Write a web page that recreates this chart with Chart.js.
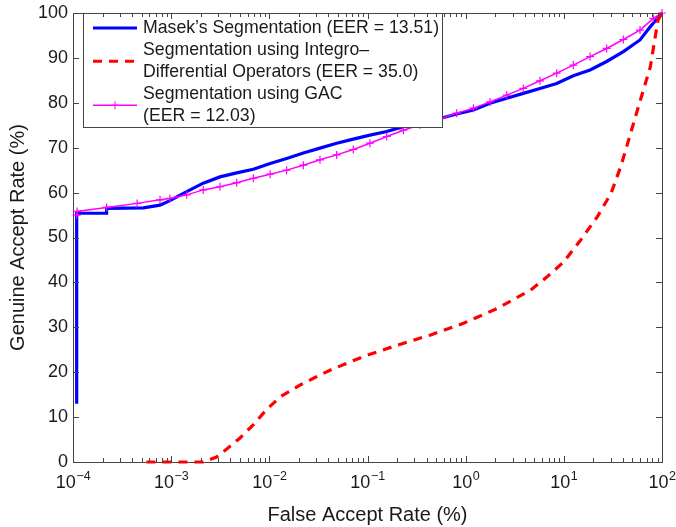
<!DOCTYPE html>
<html>
<head>
<meta charset="utf-8">
<script src="https://cdn.jsdelivr.net/npm/chart.js@4.4.1/dist/chart.umd.min.js"></script>
<style>
  html, body { margin: 0; padding: 0; background: #fff; }
  #wrap { width: 676px; height: 527px; position: relative; }
</style>
</head>
<body>
<div id="wrap"><canvas id="roc"></canvas></div>
<script>
// False accept rate (%) / genuine accept rate (%)
const masekFar = [1.09e-4, 1.09e-4, 2.2e-4, 2.2e-4, 5.2e-4, 7.7e-4, 9.7e-4, 1.44e-3, 2.12e-3, 3.14e-3, 4.65e-3, 6.87e-3, 1.02e-2, 1.5e-2, 2.22e-2, 3.28e-2, 4.85e-2, 7.16e-2, 0.106, 0.157, 0.232, 0.343, 0.547, 0.81, 1.2, 1.77, 2.62, 3.86, 5.71, 8.45, 12.5, 18.5, 27.3, 40.4, 59.7, 75.5, 100];
const masekGar = [13, 55.4, 55.4, 56.5, 56.6, 57.2, 58.2, 60.2, 62.1, 63.5, 64.4, 65.2, 66.5, 67.6, 68.8, 69.9, 71.0, 71.9, 72.8, 73.6, 74.7, 75.8, 76.5, 77.5, 78.4, 79.9, 81.0, 82.1, 83.2, 84.3, 86.0, 87.3, 89.2, 91.4, 94.0, 96.9, 100];

const integroFar = [5.6e-4, 2.1e-3, 2.9e-3, 3.6e-3, 5e-3, 6.8e-3, 9.3e-3, 1.29e-2, 2.04e-2, 3.3e-2, 4.2e-2, 9.1e-2, 0.2, 0.44, 0.95, 2.1, 4.6, 6.8, 10, 14.8, 21.9, 30.2, 38, 42.7, 55, 76, 91, 100];
const integroGar = [0, 0, 1.1, 2.7, 5.3, 8.2, 11.6, 14.5, 17.1, 19.4, 20.5, 23.5, 26.0, 28.3, 30.9, 34.2, 38.3, 41.3, 44.6, 49.4, 54.6, 59.8, 65.8, 69.5, 77.7, 88.0, 98.4, 100];

const gacFar = [1.09e-4, 1.1e-4, 2.2e-4, 4.5e-4, 7.7e-4, 9.7e-4, 1.44e-3, 2.12e-3, 3.14e-3, 4.65e-3, 6.87e-3, 1.02e-2, 1.5e-2, 2.22e-2, 3.28e-2, 4.85e-2, 7.16e-2, 0.106, 0.157, 0.232, 0.343, 0.53, 0.81, 1.2, 1.77, 2.62, 3.86, 5.71, 8.45, 12.5, 18.5, 27.3, 40.4, 59.7, 81.7, 100];
const gacGar = [55.0, 55.8, 56.7, 57.6, 58.4, 58.7, 59.5, 60.6, 61.3, 62.2, 63.2, 64.1, 65.0, 66.1, 67.3, 68.4, 69.6, 71.0, 72.5, 73.9, 75.1, 76.3, 77.7, 78.8, 80.2, 81.7, 83.2, 84.9, 86.6, 88.4, 90.3, 92.1, 94.1, 96.2, 98.8, 100];

const seriesLegend = [
  ["Masek\u2019s Segmentation (EER = 13.51)"],
  ["Segmentation using Integro\u2013", "Differential Operators (EER = 35.0)"],
  ["Segmentation using GAC", "(EER = 12.03)"],
];

const xTicks = [1e-4, 1e-3, 1e-2, 1e-1, 1, 10, 100];
const xTickExp = ["\u22124", "\u22123", "\u22122", "\u22121", "0", "1", "2"];
const yTicks = [0, 10, 20, 30, 40, 50, 60, 70, 80, 90, 100];

const FONT = "'Liberation Sans', Arial, Helvetica, sans-serif";
const TEXT = "#1a1a1a";
const AXIS = "#444";

const toPoints = (xs, ys) => xs.map((x, i) => ({ x, y: ys[i] }));

// inward MATLAB-style ticks, box on top/right, 10^n labels
const boxTicks = {
  id: "boxTicks",
  afterDraw(chart) {
    const { ctx, chartArea: a, scales } = chart;
    ctx.save();
    ctx.strokeStyle = AXIS;
    ctx.lineWidth = 1;
    ctx.beginPath();
    ctx.moveTo(a.left, a.top + 0.5);
    ctx.lineTo(a.right + 0.5, a.top + 0.5);
    ctx.lineTo(a.right + 0.5, a.bottom);
    yTicks.forEach((v) => {
      const py = Math.round(scales.y.getPixelForValue(v)) + 0.5;
      ctx.moveTo(a.left, py);
      ctx.lineTo(a.left + 6, py);
      ctx.moveTo(a.right, py);
      ctx.lineTo(a.right - 6, py);
    });
    for (let d = -4; d <= 2; d++) {
      for (let m = 1; m <= 9; m++) {
        const v = m * Math.pow(10, d);
        if (v > 100) break;
        const px = Math.round(scales.x.getPixelForValue(v)) + 0.5;
        const len = m === 1 ? 6 : 4;
        ctx.moveTo(px, a.bottom);
        ctx.lineTo(px, a.bottom - len);
        ctx.moveTo(px, a.top);
        ctx.lineTo(px, a.top + len);
      }
    }
    ctx.stroke();

    ctx.fillStyle = TEXT;
    ctx.textBaseline = "alphabetic";
    ctx.textAlign = "left";
    xTicks.forEach((v, i) => {
      const px = scales.x.getPixelForValue(v);
      ctx.font = "18px " + FONT;
      const wb = ctx.measureText("10").width;
      ctx.font = "12.5px " + FONT;
      const we = ctx.measureText(xTickExp[i]).width;
      const x0 = px - (wb + we) / 2;
      ctx.font = "18px " + FONT;
      ctx.fillText("10", x0, a.bottom + 26);
      ctx.font = "12.5px " + FONT;
      ctx.fillText(xTickExp[i], x0 + wb + 0.5, a.bottom + 17.5);
    });
    ctx.restore();
  },
};

const boxLegend = {
  id: "boxLegend",
  afterDatasetsDraw(chart) {
    const { ctx, chartArea: a } = chart;
    const left = a.left + 10, top = a.top, w = 359, h = 114;
    ctx.save();
    ctx.fillStyle = "#fff";
    ctx.fillRect(left, top, w, h);
    ctx.strokeStyle = AXIS;
    ctx.lineWidth = 1;
    ctx.strokeRect(left + 0.5, top + 0.5, w, h);
    ctx.font = "17.7px " + FONT;
    ctx.fillStyle = TEXT;
    ctx.textBaseline = "middle";
    const lineH = 21.5;
    let cy = top + 15;
    chart.data.datasets.forEach((ds, i) => {
      const lines = seriesLegend[i];
      const mid = cy + (lines.length - 1) * lineH / 2;
      ctx.save();
      ctx.strokeStyle = ds.borderColor;
      ctx.lineWidth = ds.borderWidth;
      ctx.setLineDash(ds.borderDash || []);
      ctx.beginPath();
      ctx.moveTo(left + 10, mid);
      ctx.lineTo(left + 54, mid);
      ctx.stroke();
      if (ds.pointRadius > 0) {
        ctx.setLineDash([]);
        ctx.lineWidth = 1;
        ctx.beginPath();
        ctx.moveTo(left + 32 - 4, mid);
        ctx.lineTo(left + 32 + 4, mid);
        ctx.moveTo(left + 32, mid - 4);
        ctx.lineTo(left + 32, mid + 4);
        ctx.stroke();
      }
      ctx.restore();
      lines.forEach((t, k) => ctx.fillText(t, left + 60, cy + k * lineH));
      cy += lines.length * lineH + 1;
    });
    ctx.restore();
  },
};

new Chart(document.getElementById("roc"), {
  type: "scatter",
  data: {
    datasets: [
      {
        label: seriesLegend[0].join(" "),
        data: toPoints(masekFar, masekGar),
        showLine: true,
        borderColor: "#0000ff",
        borderWidth: 3.2,
        pointRadius: 0,
        tension: 0,
        clip: false,
        order: 3,
      },
      {
        label: seriesLegend[1].join(" "),
        data: toPoints(integroFar, integroGar),
        showLine: true,
        borderColor: "#ff0000",
        borderWidth: 3.2,
        borderDash: [9, 7],
        pointRadius: 0,
        tension: 0,
        clip: false,
        order: 1,
      },
      {
        label: seriesLegend[2].join(" "),
        data: toPoints(gacFar, gacGar),
        showLine: true,
        borderColor: "#ff00ff",
        borderWidth: 1.5,
        pointStyle: "cross",
        pointRadius: 4,
        pointBorderWidth: 1.2,
        pointBorderColor: "#ff00ff",
        tension: 0,
        clip: false,
        order: 2,
      },
    ],
  },
  options: {
    responsive: true,
    maintainAspectRatio: false,
    animation: false,
    events: [],
    layout: { padding: { top: 13, right: 14, left: 0, bottom: 0 } },
    plugins: { legend: { display: false }, tooltip: { enabled: false } },
    scales: {
      x: {
        type: "logarithmic",
        min: 1e-4,
        max: 100,
        afterBuildTicks: (axis) => {
          axis.ticks = xTicks.map((v) => ({ value: v, major: true }));
        },
        afterFit: (axis) => {
          axis.height = 65;
          axis.paddingLeft = 0;
          axis.paddingRight = 0;
        },
        grid: { display: false, drawTicks: false },
        border: { display: true, color: AXIS, width: 1 },
        ticks: { display: false },
        title: {
          display: true,
          text: "False Accept Rate (%)",
          color: TEXT,
          font: { family: FONT, size: 20 },
          padding: { top: 4, bottom: 0 },
        },
      },
      y: {
        min: 0,
        max: 100,
        afterBuildTicks: (axis) => {
          axis.ticks = yTicks.map((v) => ({ value: v }));
        },
        afterFit: (axis) => {
          axis.width = 73;
          axis.paddingTop = 0;
          axis.paddingBottom = 0;
        },
        grid: { display: false, drawTicks: false },
        border: { display: true, color: AXIS, width: 1 },
        ticks: {
          padding: 5,
          color: TEXT,
          font: { family: FONT, size: 18 },
        },
        title: {
          display: true,
          text: "Genuine Accept Rate (%)",
          color: TEXT,
          font: { family: FONT, size: 20 },
          padding: { top: 6, bottom: 0 },
        },
      },
    },
  },
  plugins: [boxTicks, boxLegend],
});
</script>
</body>
</html>
